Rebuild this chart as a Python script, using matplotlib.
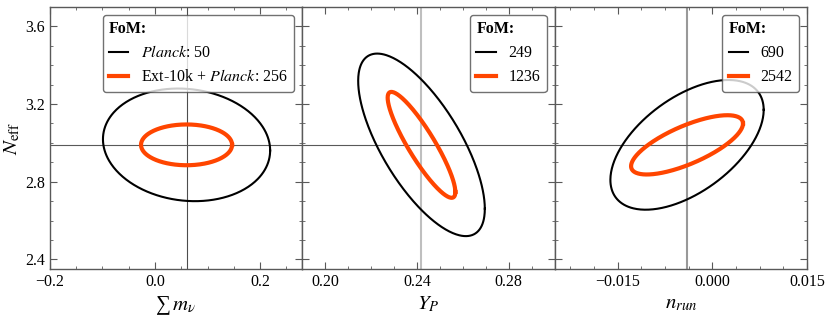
import numpy as np
import matplotlib
matplotlib.use("Agg")
import matplotlib.pyplot as plt
from matplotlib.ticker import AutoMinorLocator, MultipleLocator, FuncFormatter

plt.rcParams['font.family'] = ['Liberation Serif', 'DejaVu Serif']
plt.rcParams['mathtext.fontset'] = 'stix'

# fiducial values (cross-hair lines)
fid_x = [0.06, 0.242, -0.004]
fid_neff = 2.99

# 1-sigma ellipse half-extents and correlation
planck_dx = [0.159, 0.0276, 0.01215]
planck_dy = [0.290, 0.470, 0.334]
planck_rho = [-0.10, -0.70, 0.54]

ext_dx = [0.0866, 0.01475, 0.00887]
ext_dy = [0.105, 0.2726, 0.1526]
ext_rho = [0.0, -0.89, 0.72]

# figures of merit
fom_planck = [50, 249, 690]
fom_ext = [256, 1236, 2542]

xlabels = ['\u2211$\\,m_\\nu$', r'$Y_P$', r'$n_{run}$']
xlims = [(-0.2, 0.28), (0.19, 0.30), (-0.025, 0.015)]
xmajor = [0.2, 0.04, 0.015]
xdec = [1, 2, 3]
vline_col = ['0.3', '0.75', '0.6']
vline_lw = [0.8, 1.5, 1.5]

orange = '#ff4500'


def ellipse(cx, cy, dx, dy, rho, n=400):
    t = np.linspace(0, 2 * np.pi, n)
    x = cx + dx * np.cos(t)
    y = cy + dy * (rho * np.cos(t) + np.sqrt(1 - rho ** 2) * np.sin(t))
    return x, y


def make_fmt(nd):
    def f(v, pos):
        s = '%.*f' % (nd, v)
        if float(s) == 0:
            s = s.lstrip('-')
        return s.replace('-', '\u2212')
    return FuncFormatter(f)


fig, axes = plt.subplots(1, 3, figsize=(8.31, 3.17), dpi=100, sharey=True)
fig.subplots_adjust(left=0.060, right=0.971, top=0.978, bottom=0.151, wspace=0)

for i, ax in enumerate(axes):
    ax.axvline(fid_x[i], color=vline_col[i], lw=vline_lw[i], zorder=1)
    ax.axhline(fid_neff, color='0.35', lw=0.8, zorder=1)

    x, y = ellipse(fid_x[i], fid_neff, planck_dx[i], planck_dy[i], planck_rho[i])
    if i == 0:
        lab1 = r'$\mathit{Planck}$: %d' % fom_planck[i]
        lab2 = r'Ext-10k + $\mathit{Planck}$: %d' % fom_ext[i]
    else:
        lab1 = '%d' % fom_planck[i]
        lab2 = '%d' % fom_ext[i]
    ax.plot(x, y, color='black', lw=1.5, label=lab1, zorder=3)
    x, y = ellipse(fid_x[i], fid_neff, ext_dx[i], ext_dy[i], ext_rho[i])
    ax.plot(x, y, color=orange, lw=3, label=lab2, zorder=3)

    ax.set_xlim(*xlims[i])
    ax.set_ylim(2.35, 3.70)
    ax.xaxis.set_major_locator(MultipleLocator(xmajor[i]))
    ax.xaxis.set_major_formatter(make_fmt(xdec[i]))
    ax.yaxis.set_major_locator(MultipleLocator(0.4))
    ax.xaxis.set_minor_locator(AutoMinorLocator(4))
    ax.yaxis.set_minor_locator(AutoMinorLocator(4))
    ax.tick_params(which='both', direction='in', top=True, right=True,
                   color='0.35', labelsize=11.5)
    ax.tick_params(which='major', length=5)
    ax.tick_params(which='minor', length=2.5)
    for s in ax.spines.values():
        s.set_color('0.35')
        s.set_linewidth(1.0)
    ax.set_xlabel(xlabels[i], fontsize=15, labelpad=3)

    leg = ax.legend(loc='upper right', title='FoM:', alignment='left',
                    title_fontproperties={'weight': 'bold', 'size': 11.5},
                    fontsize=11.5, handlelength=1.2, framealpha=0.8,
                    edgecolor='0.3')
    leg.get_frame().set_linewidth(1.0)
    leg.set_zorder(5)

axes[0].set_ylabel(r'$N_{\rm eff}$', fontsize=15, labelpad=2)

fig.savefig('out.png', dpi=100)
